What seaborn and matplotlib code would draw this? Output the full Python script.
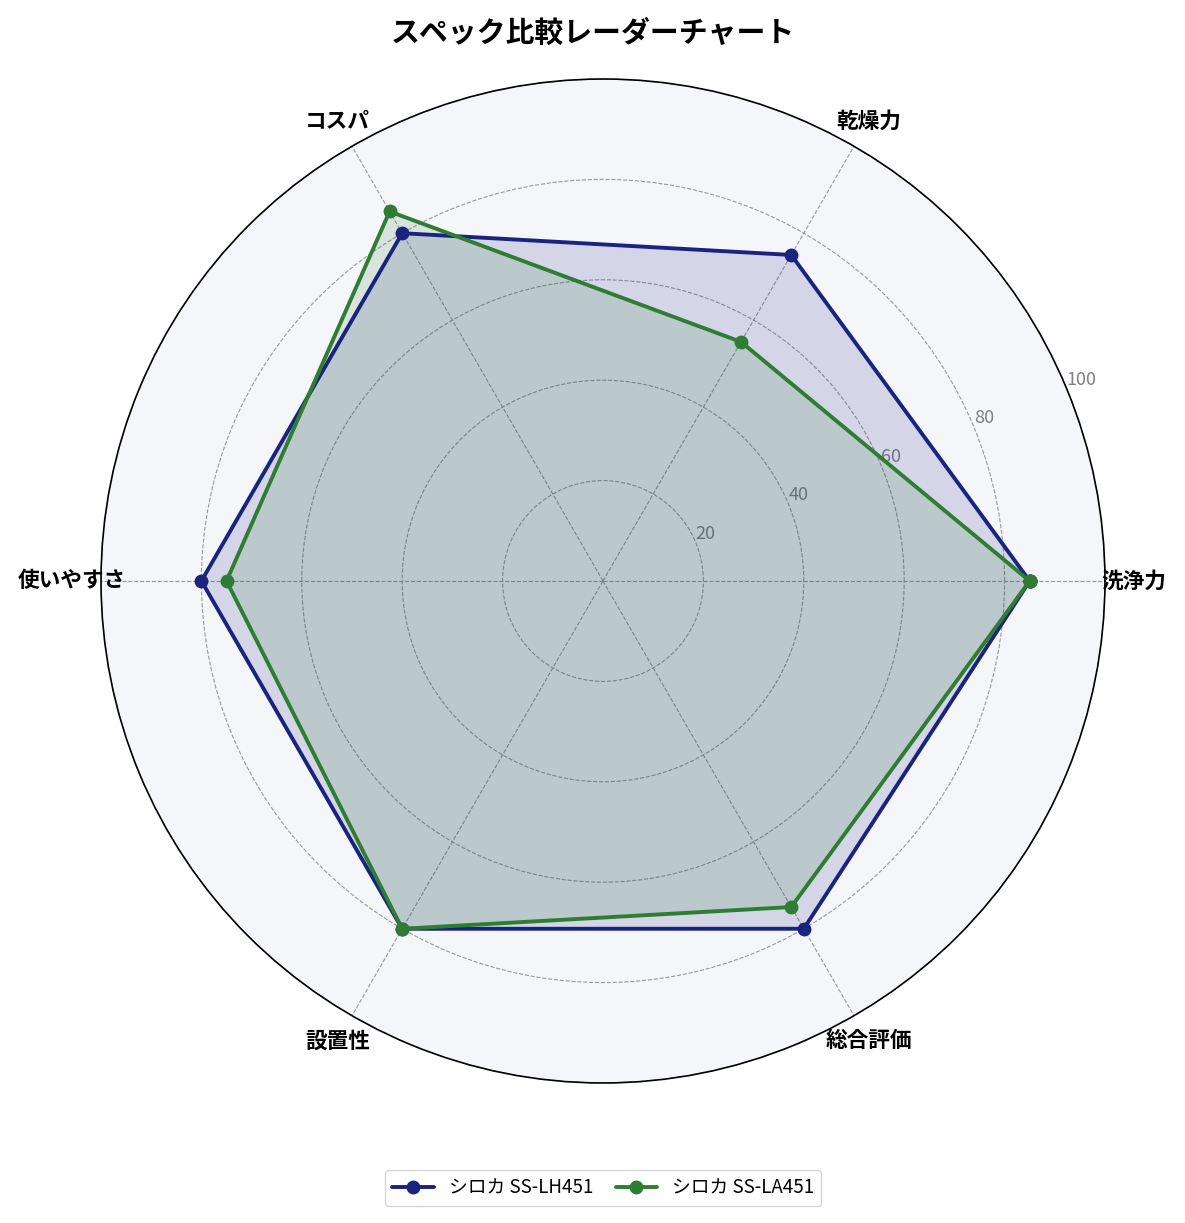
import numpy as np
import pandas as pd
import matplotlib
matplotlib.use("Agg")
import matplotlib.pyplot as plt
import seaborn as sns

categories = ["洗浄力", "乾燥力", "コスパ", "使いやすさ", "設置性", "総合評価"]
series_names = ["シロカ SS-LH451", "シロカ SS-LA451"]
values_lh451 = [85, 75, 80, 80, 80, 80]
values_la451 = [85, 55, 85, 75, 80, 75]
r_ticks = [20, 40, 60, 80, 100]
r_tick_labels = ["20", "40", "60", "80", "100"]

colors = ["#1a237e", "#2e7d32"]

sns.set_theme(style="white")
plt.rcParams["font.family"] = ["Noto Sans CJK JP", "DejaVu Sans"]
plt.rcParams["text.color"] = "black"

n = len(categories)
angles = np.linspace(0, 2 * np.pi, n, endpoint=False)
angles_closed = np.concatenate([angles, [angles[0] + 2 * np.pi]])

rows = []
for name, vals in zip(series_names, [values_lh451, values_la451]):
    vc = list(vals) + [vals[0]]
    for a, v in zip(angles_closed, vc):
        rows.append({"angle": a, "value": v, "model": name})
df = pd.DataFrame(rows)

fig = plt.figure(figsize=(11.85, 12.23), dpi=100)
ax = fig.add_axes([0.0852, 0.1145, 0.8473, 0.8209], projection="polar")
ax.set_facecolor("#f5f6fa")

sns.lineplot(data=df, x="angle", y="value", hue="model", palette=colors,
             marker="o", markersize=10, markeredgewidth=0, linewidth=2.8,
             sort=False, estimator=None, legend=False, ax=ax)

for name, c in zip(series_names, colors):
    sub = df[df["model"] == name]
    ax.fill(sub["angle"], sub["value"], color=c, alpha=0.15, linewidth=0)

ax.set_ylim(0, 100)
ax.set_yticks(r_ticks)
ax.set_yticklabels(r_tick_labels, color="#808080", fontsize=13)
ax.set_rlabel_position(22.5)
ax.set_xticks(angles)
ax.set_xticklabels(categories, fontsize=15.6, fontweight="bold", color="black")
ax.tick_params(axis="x", pad=8)
ax.set_xlabel("")
ax.set_ylabel("")
ax.grid(True, linestyle="--", color="#999999", linewidth=0.8)
ax.spines["polar"].set_color("black")
ax.spines["polar"].set_linewidth(1.2)

fig.suptitle("スペック比較レーダーチャート", fontsize=20.8, fontweight="bold",
             color="black", y=0.985)

handles = ax.lines[:2]
leg = fig.legend(handles, series_names, loc="lower center", bbox_to_anchor=(0.509, 0.006),
                 ncol=2, fontsize=13.5, frameon=True, edgecolor="#cccccc",
                 handlelength=2.2, columnspacing=1.2)
for t in leg.get_texts():
    t.set_color("black")

fig.savefig("out.png", dpi=100)
